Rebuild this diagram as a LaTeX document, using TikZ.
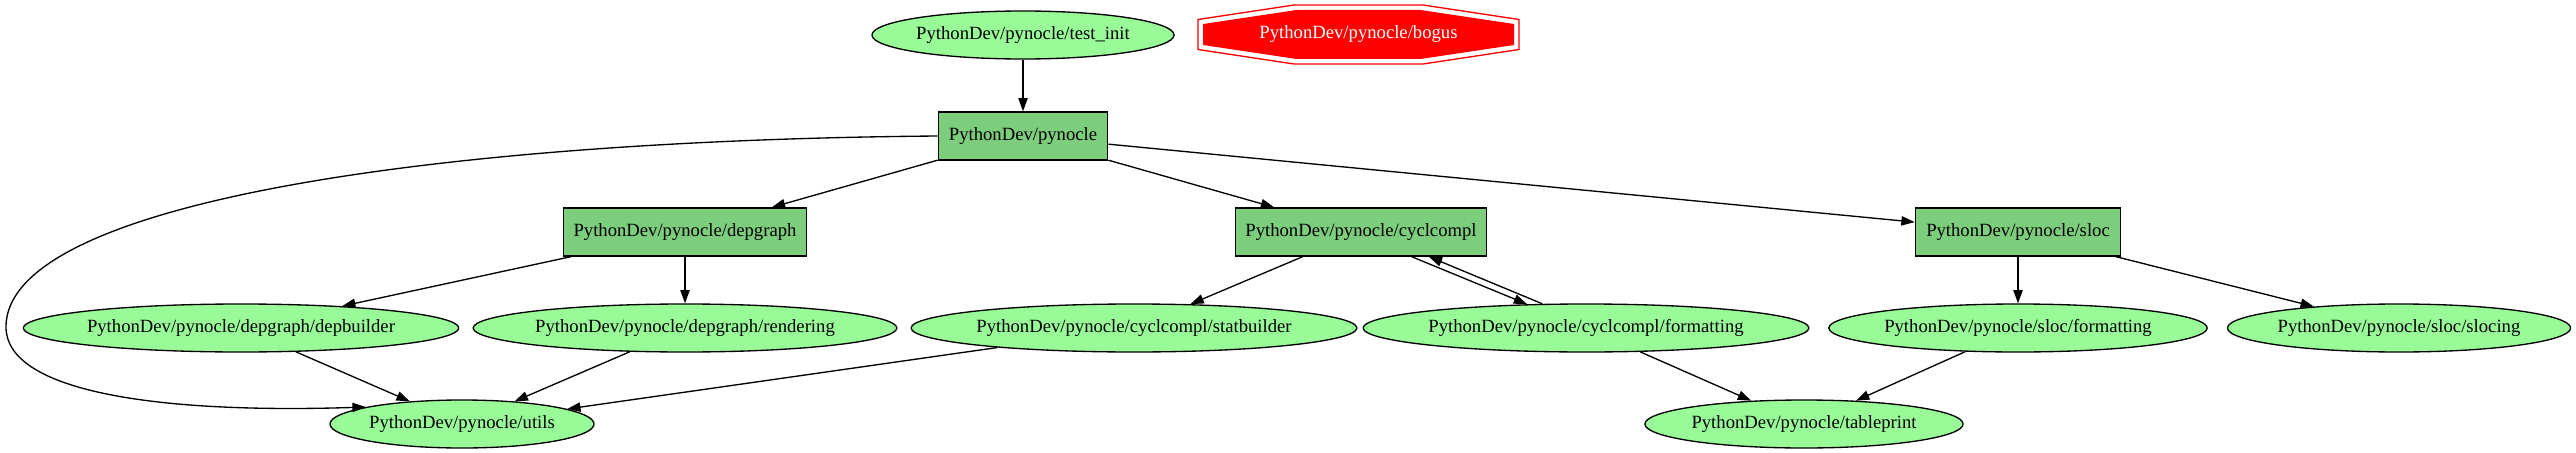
\documentclass[tikz,border=0pt]{standalone}
\usepackage{fontspec}
\setmainfont{Liberation Serif}
\usetikzlibrary{shapes.geometric,arrows.meta,calc}
\definecolor{palegreen}{HTML}{98FB98}
\definecolor{boxgreen}{HTML}{7CCD7C}
\begin{document}
\begin{tikzpicture}[x=0.75pt,y=-0.75pt,
  base/.style={draw=black, line width=1pt, minimum height=36pt, inner sep=0pt, font=\fontsize{14pt}{16pt}\selectfont},
  ell/.style={base, ellipse, fill=palegreen},
  box/.style={base, rectangle, fill=boxgreen},
  arr/.style={-{Triangle[length=10pt,width=7pt]}, line width=1pt, black}]
\fill[white] (0,0) rectangle (2576,453);
\useasboundingbox (0,0) rectangle (2576,453);
% nodes
\node[ell, minimum width=226pt] (ti) at (1023,35) {PythonDev/pynocle/test\_init};
\node[rectangle, draw=none, minimum width=240pt, minimum height=44pt, inner sep=0pt] (bog) at (1358.5,34.5) {};
\fill[red] ($(bog.center)+(-62,-24.5)$) -- ($(bog.center)+(62,-24.5)$) -- ($(bog.center)+(155.5,-10.5)$) -- ($(bog.center)+(155.5,10.5)$) -- ($(bog.center)+(62,24.5)$) -- ($(bog.center)+(-62,24.5)$) -- ($(bog.center)+(-155.5,10.5)$) -- ($(bog.center)+(-155.5,-10.5)$) -- cycle;
\draw[red, line width=1pt] ($(bog.center)+(-64.5,-29.5)$) -- ($(bog.center)+(64.5,-29.5)$) -- ($(bog.center)+(160.5,-15)$) -- ($(bog.center)+(160.5,15)$) -- ($(bog.center)+(64.5,29.5)$) -- ($(bog.center)+(-64.5,29.5)$) -- ($(bog.center)+(-160.5,15)$) -- ($(bog.center)+(-160.5,-15)$) -- cycle;
\node[text=white, font=\fontsize{14pt}{16pt}\selectfont] (bogt) at (bog.center) {PythonDev/pynocle/bogus};
\node[box, minimum width=127pt] (pyn) at (1023,136) {PythonDev/pynocle};
\node[box, minimum width=182pt] (dep) at (685,232) {PythonDev/pynocle/depgraph};
\node[box, minimum width=188pt] (cyc) at (1361,232) {PythonDev/pynocle/cyclcompl};
\node[box, minimum width=154pt] (sloc) at (2018,232) {PythonDev/pynocle/sloc};
\node[ell, minimum width=319pt] (depb) at (241,328) {PythonDev/pynocle/depgraph/depbuilder};
\node[ell, minimum width=310pt] (rend) at (685,328) {PythonDev/pynocle/depgraph/rendering};
\node[ell, minimum width=326pt] (stat) at (1134,328) {PythonDev/pynocle/cyclcompl/statbuilder};
\node[ell, minimum width=314pt] (cycf) at (1586,328) {PythonDev/pynocle/cyclcompl/formatting};
\node[ell, minimum width=279pt] (slocf) at (2018,328) {PythonDev/pynocle/sloc/formatting};
\node[ell, minimum width=256pt] (slocing) at (2399,328) {PythonDev/pynocle/sloc/slocing};
\node[ell, minimum width=198pt] (utils) at (462,424) {PythonDev/pynocle/utils};
\node[ell, minimum width=234pt] (tabp) at (1804,424) {PythonDev/pynocle/tableprint};
% edges
\draw[arr] (ti) -- (pyn);
\draw[arr] (pyn) -- (dep);
\draw[arr] (pyn) -- (cyc);
\draw[arr] (pyn) -- (sloc);
\draw[arr] (pyn.west) .. controls (450,140) and (6,200) .. (6,327) .. controls (6,390) and (150,414) .. (utils.170);
\draw[arr] (dep) -- (depb);
\draw[arr] (dep) -- (rend);
\draw[arr] (depb) -- (utils);
\draw[arr] (rend) -- (utils);
\draw[arr] (stat) -- (utils);
\draw[arr] (cyc) -- (stat);
\draw[arr] (cyc.-26) -- (cycf.158);
\draw[arr] (cycf.151) -- (cyc.-20);
\draw[arr] (cycf) -- (tabp);
\draw[arr] (sloc) -- (slocf);
\draw[arr] (sloc) -- (slocing);
\draw[arr] (slocf) -- (tabp);
\end{tikzpicture}
\end{document}
